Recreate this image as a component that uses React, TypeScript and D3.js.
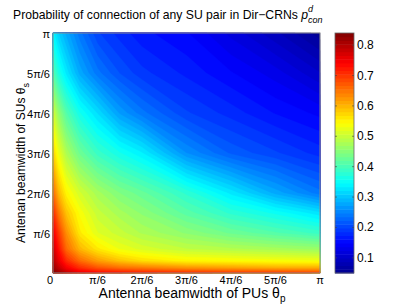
import React from "react";
import * as d3 from "d3";

// sample positions on both axes, as a fraction of pi
const thetaFrac = [0, 0.02, 0.05, 0.1, 0.167, 0.25, 0.333, 0.5, 0.667, 0.833, 1];

// p_con^d: one row per theta_s (bottom row first),
// one column per theta_p (left to right)
const pcon = [
  [0.84, 0.82, 0.79, 0.76, 0.74, 0.73, 0.72, 0.71, 0.7, 0.7, 0.69],
  [0.82, 0.79, 0.75, 0.71, 0.68, 0.66, 0.65, 0.63, 0.62, 0.61, 0.61],
  [0.8, 0.76, 0.71, 0.66, 0.62, 0.59, 0.57, 0.55, 0.545, 0.54, 0.535],
  [0.78, 0.73, 0.66, 0.6, 0.56, 0.53, 0.515, 0.495, 0.485, 0.475, 0.465],
  [0.75, 0.7, 0.63, 0.56, 0.52, 0.5, 0.48, 0.455, 0.43, 0.41, 0.39],
  [0.71, 0.65, 0.59, 0.54, 0.5, 0.475, 0.455, 0.415, 0.38, 0.355, 0.325],
  [0.66, 0.6, 0.55, 0.51, 0.475, 0.445, 0.425, 0.38, 0.33, 0.28, 0.24],
  [0.58, 0.53, 0.48, 0.43, 0.39, 0.36, 0.335, 0.26, 0.22, 0.2, 0.18],
  [0.51, 0.46, 0.41, 0.36, 0.32, 0.27, 0.24, 0.2, 0.18, 0.16, 0.145],
  [0.41, 0.37, 0.33, 0.28, 0.24, 0.21, 0.19, 0.17, 0.15, 0.13, 0.1],
  [0.34, 0.31, 0.28, 0.24, 0.2, 0.18, 0.165, 0.15, 0.12, 0.09, 0.055],
];

const tickFrac = [0, 1 / 6, 2 / 6, 3 / 6, 4 / 6, 5 / 6, 1];
const tickLabels = ["0", "π/6", "2π/6", "3π/6", "4π/6", "5π/6", "π"];
const cbarTicks = [0.1, 0.2, 0.3, 0.4, 0.5, 0.6, 0.7, 0.8];
const cRange = [0.05, 0.84];

// matlab jet colormap
const jetStops = [0, 0.125, 0.375, 0.625, 0.875, 1];
const jetColors = ["#00008f", "#0000ff", "#00ffff", "#ffff00", "#ff0000", "#800000"];

const W = 409;
const H = 307;
const plot = { left: 53, right: 320, top: 33, bottom: 273 };
const cbar = { left: 335, right: 354 };
const font = "'Liberation Sans', Arial, Helvetica, sans-serif";

export default function App() {
  const x = d3.scaleLinear().domain([0, 1]).range([plot.left, plot.right]);
  const y = d3.scaleLinear().domain([0, 1]).range([plot.bottom, plot.top]);
  const cy = d3.scaleLinear().domain(cRange).range([plot.bottom, plot.top]);

  const jet = d3
    .scaleLinear<string>()
    .domain(jetStops.map((t) => cRange[0] + t * (cRange[1] - cRange[0])))
    .range(jetColors)
    .interpolate(d3.interpolateRgb)
    .clamp(true);

  // 64 colour levels like jet(64)
  const nLev = 64;
  const step = (cRange[1] - cRange[0]) / nLev;
  const levels = d3.range(nLev).map((k) => cRange[0] + k * step);

  const n = thetaFrac.length;
  const values = pcon.flat();
  const bands = d3.contours().size([n, n]).thresholds(levels)(values);

  // contour grid coords -> pixels (sample i sits at i + 0.5)
  const gx = d3
    .scaleLinear()
    .domain([0, ...thetaFrac.map((_, i) => i + 0.5), n])
    .range([plot.left, ...thetaFrac.map((f) => x(f)), plot.right])
    .clamp(true);
  const gy = d3
    .scaleLinear()
    .domain([0, ...thetaFrac.map((_, i) => i + 0.5), n])
    .range([plot.bottom, ...thetaFrac.map((f) => y(f)), plot.top])
    .clamp(true);
  const path = d3.geoPath(
    d3.geoTransform({
      point(px, py) {
        this.stream.point(gx(px), gy(py));
      },
    })
  );

  const cbarCells = d3.range(nLev);

  return (
    <svg
      width={W}
      height={H}
      style={{ position: "absolute", left: 0, top: 0, fontFamily: font }}
    >
      <rect width={W} height={H} fill="white" />

      {/* heat map */}
      <g>
        {bands.map((b, k) => (
          <path
            key={k}
            d={path(b as any) || ""}
            fill={jet(b.value + step / 2)}
            stroke={jet(b.value + step / 2)}
            strokeWidth={0.3}
          />
        ))}
      </g>
      <rect
        x={plot.left}
        y={plot.top}
        width={plot.right - plot.left}
        height={plot.bottom - plot.top}
        fill="none"
        stroke="#8a8a8a"
        strokeWidth={1}
      />

      {/* x ticks */}
      <g fontSize={11} fill="#000" textAnchor="middle">
        {tickFrac.map((f, i) => (
          <text key={i} x={i === 0 ? x(f) - 3 : x(f)} y={284}>
            {tickLabels[i]}
          </text>
        ))}
      </g>
      {/* y ticks */}
      <g fontSize={11} fill="#000" textAnchor="end">
        {tickFrac.slice(1).map((f, i) => (
          <text key={i} x={50} y={y(f) + 5}>
            {tickLabels[i + 1]}
          </text>
        ))}
      </g>

      <text x={192} y={298} fontSize={14} textAnchor="middle">
        Antenna beamwidth of PUs θ
        <tspan fontSize={10} dy={4}>p</tspan>
      </text>
      <text
        transform={`translate(25,163) rotate(-90)`}
        fontSize={12}
        textAnchor="middle"
      >
        Antenan beamwidth of SUs θ
        <tspan fontSize={9} dy={4}>s</tspan>
      </text>

      <text x={13} y={19} fontSize={12.2}>
        Probability of connection of any SU pair in Dir−CRNs{" "}
        <tspan fontStyle="italic">p</tspan>
        <tspan fontStyle="italic" fontSize={9} dy={-7}>d</tspan>
        <tspan fontStyle="italic" fontSize={9} dx={-5} dy={11}>con</tspan>
      </text>

      {/* colorbar */}
      <g>
        {cbarCells.map((k) => (
          <rect
            key={k}
            x={cbar.left}
            y={cy(levels[k] + step)}
            width={cbar.right - cbar.left}
            height={cy(levels[k]) - cy(levels[k] + step) + 0.5}
            fill={jet(levels[k] + step / 2)}
          />
        ))}
        <rect
          x={cbar.left}
          y={plot.top}
          width={cbar.right - cbar.left}
          height={plot.bottom - plot.top}
          fill="none"
          stroke="#666"
          strokeWidth={0.8}
        />
        {cbarTicks.map((v) => (
          <g key={v}>
            <line x1={cbar.left} x2={cbar.left + 2} y1={cy(v)} y2={cy(v)} stroke="#444" strokeWidth={0.6} />
            <line x1={cbar.right - 2} x2={cbar.right} y1={cy(v)} y2={cy(v)} stroke="#444" strokeWidth={0.6} />
            <text x={357} y={cy(v) + 4} fontSize={12}>
              {v.toFixed(1)}
            </text>
          </g>
        ))}
      </g>
    </svg>
  );
}
